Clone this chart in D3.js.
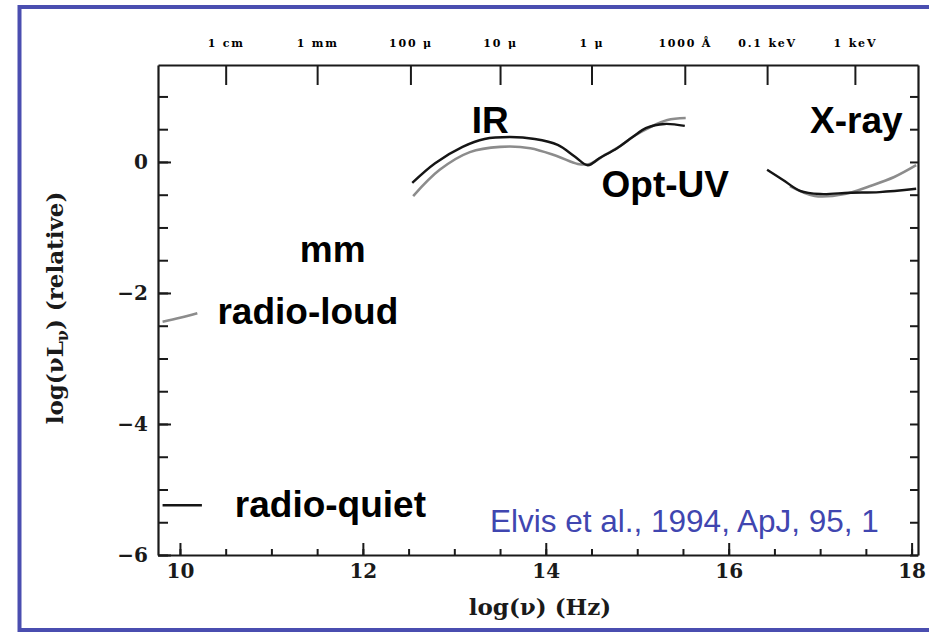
<!DOCTYPE html>
<html><head><meta charset="utf-8">
<script src="https://cdn.jsdelivr.net/npm/d3@7"></script>
<style>
html,body{margin:0;padding:0;background:#fff;overflow:hidden;}
svg{display:block;}
</style></head>
<body>
<script>
// ---- data (log nu [Hz], log nuLnu relative) ----
const bottomTicks = [10, 10.5, 11, 11.5, 12, 12.5, 13, 13.5, 14, 14.5, 15, 15.5, 16, 16.5, 17, 17.5, 18];
const bottomLabels = [10, 12, 14, 16, 18];
const leftTicks = [-6, -5.5, -5, -4.5, -4, -3.5, -3, -2.5, -2, -1.5, -1, -0.5, 0, 0.5, 1];
const leftLabels = [-6, -4, -2, 0];
const topTickValues = [10.5, 11.5, 12.52, 13.5, 14.5, 15.52, 16.42, 17.38];
const topTickNames = ["1 cm", "1 mm", "100 \u03bc", "10 \u03bc", "1 \u03bc", "1000 \u00c5", "0.1 keV", "1 keV"];

// radio-quiet mean SED (black)
const quietIRUV = [[12.54,-0.32],[12.79,-0.02],[13.09,0.23],[13.33,0.35],[13.61,0.38],[13.88,0.35],[14.13,0.26],[14.32,0.08],[14.46,-0.05],[14.59,0.06],[14.78,0.21],[14.95,0.38],[15.10,0.52],[15.30,0.58],[15.52,0.55]];
const quietXray = [[16.42,-0.12],[16.59,-0.27],[16.78,-0.44],[17.00,-0.49],[17.32,-0.47],[17.65,-0.46],[18.05,-0.41]];
const quietRadio = [[9.81,-5.24],[10.24,-5.24]];
// radio-loud mean SED (grey)
const loudIRUV = [[12.55,-0.52],[12.84,-0.12],[13.17,0.15],[13.50,0.23],[13.83,0.21],[14.12,0.09],[14.35,-0.03],[14.48,-0.03],[14.65,0.11],[14.81,0.24],[14.97,0.40],[15.14,0.53],[15.33,0.64],[15.53,0.67]];
const loudXray = [[16.67,-0.37],[16.94,-0.52],[17.27,-0.49],[17.54,-0.37],[17.81,-0.23],[18.05,-0.05]];
const loudRadio = [[9.81,-2.44],[10.0,-2.38],[10.19,-2.31]];

const labels = [
  {t:"IR", x:13.19, y:0.44},
  {t:"Opt-UV", x:14.61, y:-0.54},
  {t:"X-ray", x:16.89, y:0.44},
  {t:"mm", x:11.31, y:-1.53},
  {t:"radio-loud", x:10.41, y:-2.47},
  {t:"radio-quiet", x:10.6, y:-5.42}
];

const W = 929, H = 632;
const svg = d3.select("body").append("svg").attr("width", W).attr("height", H);

// blue frame (open on the right)
const frame = "#4a4eb0";
svg.append("path").attr("d", "M 940 7 H 19.5 V 630 H 940")
  .attr("fill", "none").attr("stroke", frame).attr("stroke-width", 4);

const x = d3.scaleLinear().domain([9.76, 18.07]).range([158, 918]);
const y = d3.scaleLinear().domain([-6, 1.48]).range([555, 65]);

const axisColor = "#1a1a1a";
const serif = "'DejaVu Serif','Liberation Serif',serif";

function styleAxis(g){
  g.selectAll("path.domain").attr("stroke", axisColor).attr("stroke-width", 2.2);
  g.selectAll(".tick line").attr("stroke", axisColor).attr("stroke-width", 2);
  g.selectAll(".tick text").attr("fill", "#1a1a1a").attr("font-family", serif).attr("font-weight", "bold");
}

// bottom axis: minor ticks
const gb = svg.append("g").attr("transform", `translate(0,${y(-6)})`)
  .call(d3.axisBottom(x).tickValues(bottomTicks).tickSizeInner(-6).tickSizeOuter(0).tickFormat(""));
styleAxis(gb);
// bottom axis: major ticks with labels
const gb2 = svg.append("g").attr("transform", `translate(0,${y(-6)})`)
  .call(d3.axisBottom(x).tickValues(bottomLabels).tickSizeInner(-12).tickSizeOuter(0).tickPadding(9).tickFormat(d3.format("d")));
styleAxis(gb2);
gb2.select("path.domain").remove();
gb2.selectAll(".tick text").attr("font-size", 20);

// left axis
const gl = svg.append("g").attr("transform", `translate(${x(9.76)},0)`)
  .call(d3.axisLeft(y).tickValues(leftTicks).tickSizeInner(-10).tickSizeOuter(0).tickFormat(""));
styleAxis(gl);
const gl2 = svg.append("g").attr("transform", `translate(${x(9.76)},0)`)
  .call(d3.axisLeft(y).tickValues(leftLabels).tickSizeInner(-13).tickSizeOuter(0).tickPadding(10).tickFormat(d3.format("d")));
styleAxis(gl2);
gl2.select("path.domain").remove();
gl2.selectAll(".tick text").attr("font-size", 20);

// right axis
const gr = svg.append("g").attr("transform", `translate(${x(18.07)},0)`)
  .call(d3.axisRight(y).tickValues(leftTicks).tickSizeInner(-8).tickSizeOuter(0).tickFormat(""));
styleAxis(gr);

// top axis (wavelength / energy)
const gt = svg.append("g").attr("transform", `translate(0,${y(1.48)})`)
  .call(d3.axisTop(x).tickValues(topTickValues).tickSizeInner(-20).tickSizeOuter(0).tickPadding(18)
    .tickFormat((d,i) => topTickNames[i]));
styleAxis(gt);
gt.selectAll(".tick text").attr("font-size", 11).attr("letter-spacing", 1.8).attr("fill", "#000");

// curves
const line = d3.line().x(d => x(d[0])).y(d => y(d[1])).curve(d3.curveCatmullRom.alpha(0.5));
const grey = "#8c8c8c", black = "#151515";
[loudIRUV, loudXray, loudRadio].forEach(s =>
  svg.append("path").datum(s).attr("d", line).attr("fill", "none").attr("stroke", grey).attr("stroke-width", 2.6));
[quietIRUV, quietXray, quietRadio].forEach(s =>
  svg.append("path").datum(s).attr("d", line).attr("fill", "none").attr("stroke", black).attr("stroke-width", 2.4));

// region labels
svg.append("g").selectAll("text").data(labels).join("text")
  .attr("x", d => x(d.x)).attr("y", d => y(d.y))
  .attr("font-family", "'Liberation Sans',Arial,Helvetica,sans-serif")
  .attr("font-weight", "bold").attr("font-size", 37).attr("fill", "#000")
  .text(d => d.t);

// citation
svg.append("text").attr("x", 490).attr("y", 532)
  .attr("font-family", "'Liberation Sans',Arial,Helvetica,sans-serif")
  .attr("font-size", 31.5).attr("fill", "#4046b0")
  .text("Elvis et al., 1994, ApJ, 95, 1");

// axis titles
svg.append("text").attr("x", 540).attr("y", 615).attr("text-anchor", "middle")
  .attr("font-family", serif).attr("font-weight", "bold").attr("font-size", 23).attr("fill", "#1a1a1a")
  .text("log(\u03bd)  (Hz)");

const yt = svg.append("text").attr("transform", "translate(63,308) rotate(-90)")
  .attr("text-anchor", "middle")
  .attr("font-family", serif).attr("font-weight", "bold").attr("font-size", 23).attr("fill", "#1a1a1a");
yt.append("tspan").text("log(\u03bdL");
yt.append("tspan").attr("font-size", 16).attr("dy", 5).text("\u03bd");
yt.append("tspan").attr("dy", -5).text(")  (relative)");
</script>
</body></html>
